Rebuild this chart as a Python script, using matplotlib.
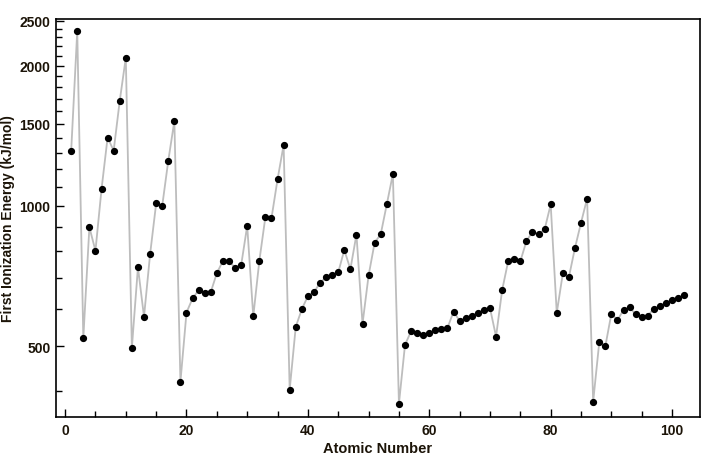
import matplotlib
matplotlib.use("Agg")
import matplotlib.pyplot as plt
from matplotlib.ticker import FixedLocator, NullFormatter

atomic_number = list(range(1, 103))
ionization_energy = [
    1312, 2372, 520, 900, 801, 1086, 1402, 1314, 1681, 2081,
    496, 738, 578, 787, 1012, 1000, 1251, 1521, 419, 590,
    633, 659, 651, 653, 717, 762, 760, 737, 745, 906,
    579, 762, 947, 941, 1140, 1351, 403, 550, 600, 640,
    652, 684, 702, 710, 720, 804, 731, 868, 558, 709,
    834, 869, 1008, 1170, 376, 503, 538, 534, 527, 533,
    540, 545, 547, 593, 566, 573, 581, 589, 597, 603,
    524, 659, 761, 770, 760, 840, 880, 870, 890, 1007,
    589, 716, 703, 812, 920, 1037, 380, 509, 499, 587,
    568, 598, 605, 585, 578, 581, 601, 608, 619, 627,
    635, 642,
]
y_major = [500, 1000, 1500, 2000, 2500]
x_major = [0, 20, 40, 60, 80, 100]

txt = "#1c1408"
plt.rcParams['font.family'] = ['Liberation Sans', 'DejaVu Sans']

fig = plt.figure(figsize=(7.2, 4.56), dpi=100)
ax = fig.add_axes([56/720, 38/456, 644/720, 398/456])
ax.plot(atomic_number, ionization_energy, color="#bdbdbd", lw=1.3, zorder=1)
ax.plot(atomic_number, ionization_energy, 'o', color="black", ms=4.2, zorder=2)
ax.set_yscale('log')
ax.set_ylim(352, 2520)
ax.set_xlim(-1.5, 104.6)

ax.yaxis.set_major_locator(FixedLocator(y_major))
ax.set_yticklabels([str(v) for v in y_major])
ax.yaxis.set_minor_locator(FixedLocator([v for v in range(400, 2501, 100) if v not in y_major]))
ax.yaxis.set_minor_formatter(NullFormatter())
ax.xaxis.set_major_locator(FixedLocator(x_major))
ax.set_xticklabels([str(v) for v in x_major])
ax.xaxis.set_minor_locator(FixedLocator([v for v in range(5, 105, 5) if v not in x_major]))

for s in ['left', 'bottom', 'right', 'top']:
    ax.spines[s].set_linewidth(1.2)
ax.tick_params(which='both', direction='in', top=False, right=False, width=1.0, color='black')
ax.tick_params(which='major', length=6, labelsize=10, labelcolor=txt, pad=4)
ax.tick_params(which='minor', length=4)
for lab in ax.get_xticklabels() + ax.get_yticklabels():
    lab.set_fontweight('bold')

ax.set_xlabel("Atomic Number", fontsize=10.5, fontweight='bold', color=txt, labelpad=3)
ax.set_ylabel("First Ionization Energy (kJ/mol)", fontsize=10, fontweight='bold', color=txt)
ax.yaxis.set_label_coords(-0.064, 0.5)

fig.savefig("out.png", dpi=100)
